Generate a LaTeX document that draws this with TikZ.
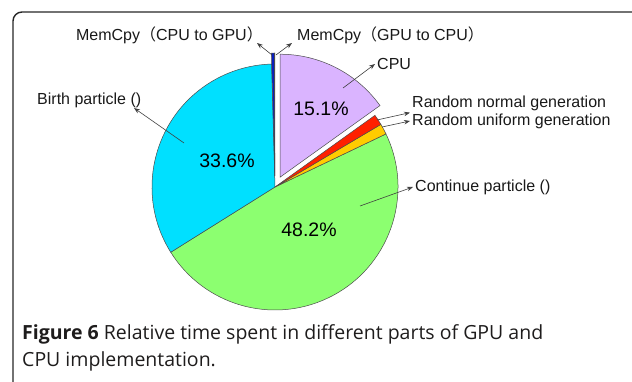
\documentclass[tikz,border=0pt]{standalone}
\usepackage{fontspec}
\setmainfont{Liberation Sans}
\newfontfamily\cjk{Noto Sans CJK SC}
\newfontfamily\capfont{Open Sans}
\usetikzlibrary{arrows.meta}
\definecolor{birthcol}{RGB}{0,224,255}
\definecolor{contcol}{RGB}{140,255,112}
\definecolor{cpucol}{RGB}{218,180,255}
\definecolor{normcol}{RGB}{255,32,0}
\definecolor{unifcol}{RGB}{255,204,0}
\definecolor{htodcol}{RGB}{10,30,190}
\definecolor{dtohcol}{RGB}{0,0,90}
\definecolor{captext}{RGB}{30,28,28}
\tikzset{
  slice/.style={draw=black!70, line width=0.5pt},
  lbl/.style={font=\fontsize{16}{19}\selectfont, text=black!90, inner sep=2pt},
  pct/.style={font=\fontsize{19.5}{23}\selectfont, inner sep=0pt},
  lead/.style={-{Stealth[length=6pt,width=4.5pt]}, draw=black!75, line width=0.6pt},
  capline/.style={font=\capfont\fontsize{19.5}{27}\selectfont, text=captext, inner sep=0pt},
}
\begin{document}
\begin{tikzpicture}[x=1pt,y=-1pt]
  \useasboundingbox (0,0) rectangle (632,382);
  % frame
  \draw[line width=1.4pt, black!85, rounded corners=9pt] (645,12) -- (13,12) -- (13,395);

  % pie, angles counterclockwise from east
  \begin{scope}[shift={(275,187)}, yscale=-1]
    \draw[slice, fill=contcol] (0,0) -- (25.56:123) arc[start angle=25.56, end angle=-147.96, radius=123] -- cycle;
    \draw[slice, fill=birthcol] (0,0) -- (212.04:123) arc[start angle=212.04, end angle=91.6, radius=123] -- cycle;
    \draw[slice, fill=unifcol] (0,0) -- (30.6:123) arc[start angle=30.6, end angle=25.56, radius=123] -- cycle;
    \draw[slice, fill=normcol] (0,0) -- (35.64:123) arc[start angle=35.64, end angle=30.6, radius=123] -- cycle;
    \begin{scope}[shift={(62.82:11)}]
      \draw[slice, fill=cpucol] (0,0) -- (90:123) arc[start angle=90, end angle=35.64, radius=123] -- cycle;
    \end{scope}
    \begin{scope}[shift={(90.8:11)}]
      \draw[slice, fill=htodcol] (0,0) -- (91.6:123) arc[start angle=91.6, end angle=90.25, radius=123] -- cycle;
      \draw[slice, fill=dtohcol] (0,0) -- (90.25:123) arc[start angle=90.25, end angle=90, radius=123] -- cycle;
    \end{scope}
  \end{scope}

  % percentages
  \node[pct] (p-birth) at (227,161) {33.6\%};
  \node[pct] (p-cont) at (309,230) {48.2\%};
  \node[pct] (p-cpu) at (321,109) {15.1\%};

  % labels
  \node[lbl, anchor=east] (htod) at (265,35) {MemCpy{\cjk （}CPU to GPU{\cjk ）}};
  \node[lbl, anchor=west] (dtoh) at (295,35) {MemCpy{\cjk （}GPU to CPU{\cjk ）}};
  \node[lbl, anchor=west] (cpu) at (375,64) {CPU};
  \node[lbl, anchor=west] (norm) at (410,103) {Random normal generation};
  \node[lbl, anchor=west] (unif) at (410,121) {Random uniform generation};
  \node[lbl, anchor=west] (cont) at (413,187) {Continue particle ()};
  \node[lbl, anchor=west] (birth) at (35,100) {Birth particle ()};

  % leader lines
  \coordinate (htod-in) at (272,55);
  \coordinate (htod-tip) at (257,43);
  \coordinate (dtoh-in) at (276,55);
  \coordinate (dtoh-tip) at (292,43);
  \coordinate (cpu-in) at (343,88);
  \coordinate (norm-in) at (377,120);
  \coordinate (unif-in) at (382,127);
  \coordinate (cont-in) at (360,206);
  \coordinate (birth-in) at (184,143);
  \coordinate (birth-tip) at (134,108);
  \draw[lead] (htod-in) -- (htod-tip);
  \draw[lead] (dtoh-in) -- (dtoh-tip);
  \draw[lead] (cpu-in) -- (cpu.west);
  \draw[lead] (norm-in) -- (norm.south west);
  \draw[lead] (unif-in) -- (unif.west);
  \draw[lead] (cont-in) -- (cont.west);
  \draw[lead] (birth-in) -- (birth-tip);

  % caption
  \node[capline, anchor=base west] (cap1) at (22,339) {\textbf{Figure 6} Relative time spent in different parts of GPU and};
  \node[capline, anchor=base west] (cap2) at (22,366) {CPU implementation.};
\end{tikzpicture}
\end{document}
